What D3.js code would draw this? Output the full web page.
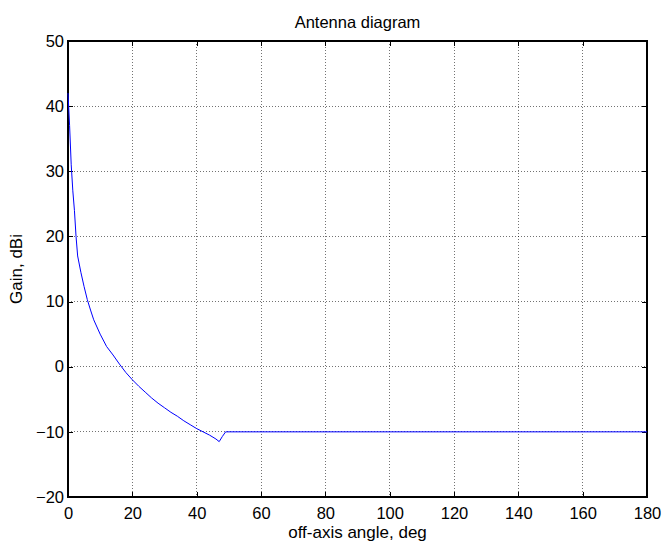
<!DOCTYPE html>
<html>
<head>
<meta charset="utf-8">
<script src="https://cdn.jsdelivr.net/npm/d3@7"></script>
<style>
  body { margin: 0; background: #fff; }
  text { font-family: "Liberation Sans", Arial, sans-serif; fill: #000; }
</style>
</head>
<body>
<svg id="chart" width="662" height="544"></svg>
<script>
// off-axis angle (deg) and gain (dBi)
const angles = [0, 0.5, 1, 1.5, 2, 2.5, 3, 4, 5, 6, 7, 8, 10, 12, 14, 16, 18, 20, 22, 24, 26, 28, 30, 32, 34, 36, 38, 40, 42, 44, 46, 47, 48, 49, 180]
const gains = [42, 37, 31, 27, 24, 20, 17, 14.5, 12.3, 10.3, 8.7, 7.2, 5, 3.1, 1.8, 0.4, -0.9, -2, -3, -3.9, -4.8, -5.6, -6.3, -7, -7.6, -8.3, -8.9, -9.5, -10, -10.5, -11.1, -11.5, -10.7, -10, -10]
const xTicks = [0, 20, 40, 60, 80, 100, 120, 140, 160, 180]
const yTicks = [-20, -10, 0, 10, 20, 30, 40, 50]

const margin = {top: 41, right: 15, bottom: 47, left: 68}
const width = 662, height = 544
const innerWidth = width - margin.left - margin.right,
      innerHeight = height - margin.top - margin.bottom

let svg = d3.select('#chart')
let g = svg.append('g').attr('transform', `translate(${margin.left},${margin.top})`)

let xScale = d3.scaleLinear().domain([0, 180]).range([0, innerWidth])
let yScale = d3.scaleLinear().domain([-20, 50]).range([innerHeight, 0])

// dotted grid
g.append('g').attr('class', 'grid')
  .selectAll('line.gx').data(xTicks.slice(1, -1)).enter().append('line')
    .attr('x1', d => xScale(d)).attr('x2', d => xScale(d))
    .attr('y1', 0).attr('y2', innerHeight)
g.select('.grid')
  .selectAll('line.gy').data(yTicks.slice(1, -1)).enter().append('line')
    .attr('y1', d => yScale(d)).attr('y2', d => yScale(d))
    .attr('x1', 0).attr('x2', innerWidth)
g.selectAll('.grid line')
  .attr('stroke', '#000').attr('stroke-width', 1)
  .attr('stroke-dasharray', '1,2').attr('opacity', 0.55)
  .attr('shape-rendering', 'crispEdges')

// axes, ticks pointing inward
const styleAxis = (sel) => {
  sel.select('.domain').remove()
  sel.selectAll('line').attr('stroke', '#000').attr('shape-rendering', 'crispEdges')
  sel.selectAll('text').style('font-size', '16.5px')
}
// top / right: ticks only, no labels
const ticksOnly = (sel) => {
  styleAxis(sel)
  sel.selectAll('text').remove()
}
g.append('g').attr('transform', `translate(0,${innerHeight})`)
  .call(d3.axisBottom(xScale).tickValues(xTicks).tickSize(-5).tickPadding(10))
  .call(styleAxis)
g.append('g')
  .call(d3.axisTop(xScale).tickValues(xTicks).tickSize(-5))
  .call(ticksOnly)
g.append('g')
  .call(d3.axisLeft(yScale).tickValues(yTicks).tickSize(-5).tickPadding(4))
  .call(styleAxis)
g.append('g').attr('transform', `translate(${innerWidth},0)`)
  .call(d3.axisRight(yScale).tickValues(yTicks).tickSize(-5))
  .call(ticksOnly)

// axes box
g.append('rect')
  .attr('width', innerWidth).attr('height', innerHeight)
  .attr('fill', 'none').attr('stroke', '#000').attr('stroke-width', 1.3)
  .attr('shape-rendering', 'crispEdges')

// gain curve
let line = d3.line().x((d, i) => xScale(angles[i])).y(d => yScale(d))
g.append('path').datum(gains)
  .attr('d', line)
  .attr('fill', 'none').attr('stroke', '#0000ff').attr('stroke-width', 1)

// labels
svg.append('text').attr('x', margin.left + innerWidth / 2).attr('y', 28)
  .attr('text-anchor', 'middle').style('font-size', '16.5px').text('Antenna diagram')
svg.append('text').attr('x', margin.left + innerWidth / 2).attr('y', 538)
  .attr('text-anchor', 'middle').style('font-size', '17px').text('off-axis angle, deg')
svg.append('text')
  .attr('transform', `translate(22,${margin.top + innerHeight / 2}) rotate(-90)`)
  .attr('text-anchor', 'middle').style('font-size', '17px').text('Gain, dBi')
</script>
</body>
</html>
